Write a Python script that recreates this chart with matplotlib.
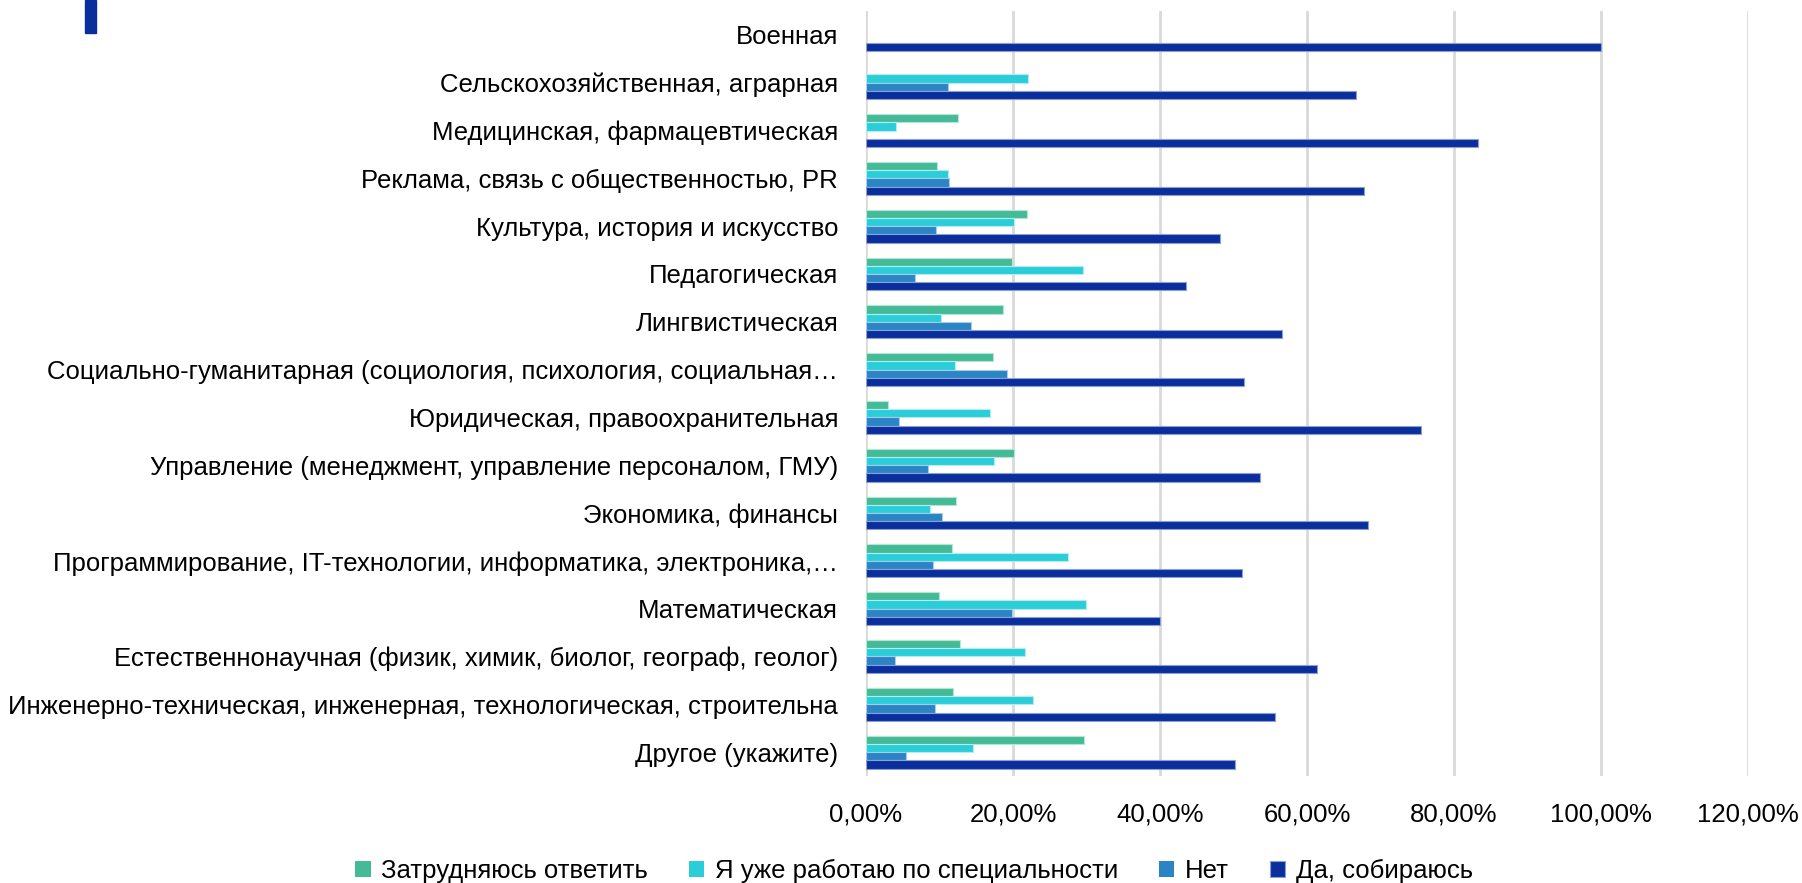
import matplotlib
matplotlib.use("Agg")
import matplotlib.pyplot as plt
import numpy as np
from matplotlib.patches import Rectangle
from matplotlib.ticker import FuncFormatter

plt.rcParams['font.family'] = ['Liberation Sans', 'DejaVu Sans']

categories = [
    "Военная",
    "Сельскохозяйственная, аграрная",
    "Медицинская, фармацевтическая",
    "Реклама, связь с общественностью, PR",
    "Культура, история и искусство",
    "Педагогическая",
    "Лингвистическая",
    "Социально-гуманитарная (социология, психология, социальная…",
    "Юридическая, правоохранительная",
    "Управление (менеджмент, управление персоналом, ГМУ)",
    "Экономика, финансы",
    "Программирование, IT-технологии, информатика, электроника,…",
    "Математическая",
    "Естественнонаучная (физик, химик, биолог, географ, геолог)",
    "Инженерно-техническая, инженерная, технологическая, строительна",
    "Другое (укажите)",
]

series_names = ["Затрудняюсь ответить", "Я уже работаю по специальности", "Нет", "Да, собираюсь"]

zatrud = [0.0, 0.0, 12.5, 9.7, 21.9, 19.9, 18.7, 17.3, 3.0, 20.2, 12.2, 11.7, 9.9, 12.8, 11.9, 29.7]
rabotayu = [0.0, 22.1, 4.1, 11.2, 20.2, 29.5, 10.2, 12.1, 16.9, 17.4, 8.7, 27.5, 29.9, 21.7, 22.7, 14.6]
net = [0.0, 11.1, 0.0, 11.3, 9.5, 6.6, 14.3, 19.2, 4.5, 8.4, 10.4, 9.1, 19.9, 4.0, 9.4, 5.5]
da = [100.0, 66.6, 83.3, 67.7, 48.2, 43.6, 56.6, 51.4, 75.5, 53.6, 68.3, 51.2, 40.0, 61.4, 55.7, 50.2]

xticks = [0, 20, 40, 60, 80, 100, 120]

colors = ["#45BA97", "#2BCDD8", "#2A85C5", "#0A2F9C"]
edges = ["#b5e6d4", "#b0eef2", "#a9cbe8", "#8d9ed6"]

W, H = 1802, 883
fig = plt.figure(figsize=(W / 100, H / 100), dpi=100)

# fit label font size so the longest category label spans ~829 px
renderer = fig.canvas.get_renderer()
probe = fig.text(0, 0, max(categories, key=len), fontsize=16)
wpx = probe.get_window_extent(renderer).width
probe.remove()
fs = 16 * 829.0 / wpx

ax = fig.add_axes([866 / W, 1 - 776 / H, (1748 - 866) / W, (776 - 11) / H])

n = len(categories)
ypos = np.arange(n)[::-1].astype(float)
h = 0.172
offsets = [1.5 * h, 0.5 * h, -0.5 * h, -1.5 * h]
data = [zatrud, rabotayu, net, da]
for vals, off, c, ec, name in zip(data, offsets, colors, edges, series_names):
    v = np.array(vals) / 100.0
    lw = np.where(v > 0, 0.8, 0.0)
    ax.barh(ypos + off, v, height=h, color=c, edgecolor=ec,
            linewidth=lw, label=name, zorder=3)

ax.set_ylim(-0.5, n - 0.5)
ax.set_xlim(0, 1.2)
ax.set_xticks([t / 100 for t in xticks])
ax.xaxis.set_major_formatter(FuncFormatter(lambda v, p: f"{v*100:.2f}%".replace(".", ",")))
ax.set_yticks(ypos)
ax.set_yticklabels(categories)
ax.grid(axis='x', color='#d9d9d9', linewidth=2, zorder=0)
for s in ax.spines.values():
    s.set_visible(False)
ax.tick_params(axis='both', length=0, labelsize=fs, colors='#000000')
ax.tick_params(axis='x', pad=19)
ax.tick_params(axis='y', pad=20)

handles, labels = ax.get_legend_handles_labels()
leg = fig.legend(handles, labels, loc='center', bbox_to_anchor=(914 / W, 1 - 871 / H),
                 ncol=4, frameon=False, fontsize=fs, handlelength=0.6, handleheight=0.6,
                 handletextpad=0.4, columnspacing=1.6)

fig.patches.append(Rectangle((85 / W, 1 - 33 / H), 11 / W, 33 / H, transform=fig.transFigure,
                             color="#0A2F9C", zorder=5))

fig.savefig("out.png", dpi=100)
